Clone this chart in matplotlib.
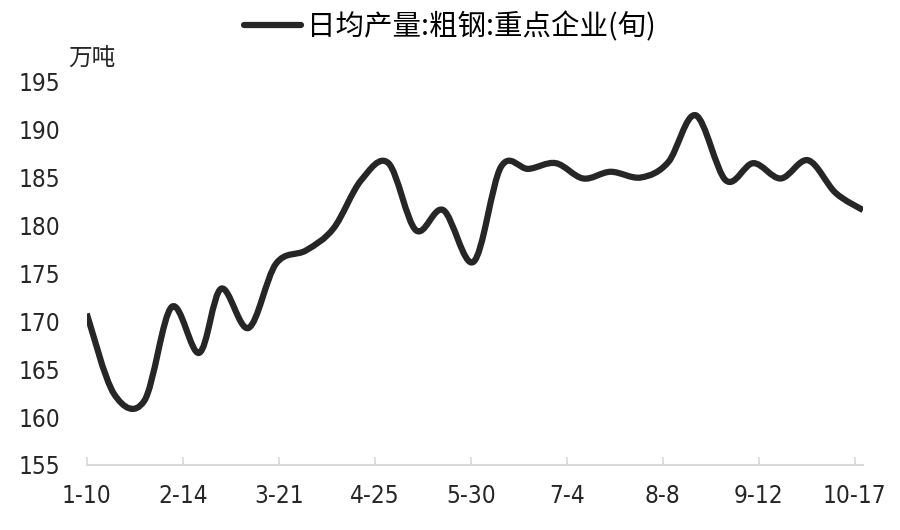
import pandas as pd
import matplotlib.pyplot as plt
import matplotlib.dates as mdates
from matplotlib.path import Path
from matplotlib.patches import PathPatch
from matplotlib.lines import Line2D

# xun (10-day) data, 2019
dates = ["2019-01-10", "2019-01-20", "2019-01-31", "2019-02-10", "2019-02-20", "2019-02-28",
         "2019-03-10", "2019-03-20", "2019-03-31", "2019-04-10", "2019-04-20", "2019-04-30",
         "2019-05-10", "2019-05-20", "2019-05-31", "2019-06-10", "2019-06-20", "2019-06-30",
         "2019-07-10", "2019-07-20", "2019-07-31", "2019-08-10", "2019-08-20", "2019-08-31",
         "2019-09-10", "2019-09-20", "2019-09-30", "2019-10-10", "2019-10-20"]
output = [170.8, 162.4, 161.7, 171.5, 166.7, 173.4,
          169.3, 176.0, 177.4, 179.7, 184.7, 186.5,
          179.5, 181.6, 176.2, 186.1, 185.9, 186.5,
          184.9, 185.6, 185.0, 186.6, 191.5, 184.7,
          186.5, 184.9, 186.8, 183.4, 181.6]
tick_dates = ["2019-01-10", "2019-02-14", "2019-03-21", "2019-04-25", "2019-05-30",
              "2019-07-04", "2019-08-08", "2019-09-12", "2019-10-17"]
tick_labels = ["1-10", "2-14", "3-21", "4-25", "5-30", "7-4", "8-8", "9-12", "10-17"]
y_ticks = [155, 160, 165, 170, 175, 180, 185, 190, 195]

series_name = "日均产量:粗钢:重点企业(旬)"
unit = "万吨"

cjk = ["Noto Sans CJK SC", "DejaVu Sans"]
line_color = "#262626"

x = mdates.date2num(pd.to_datetime(dates))
y = output

fig = plt.figure(figsize=(9, 5.3), dpi=100)
ax = fig.add_axes([86.7 / 900, 1 - 465 / 530, (863 - 86.7) / 900, (465 - 81.7) / 530])

# smoothed line (Catmull-Rom as cubic Bezier, like Excel's smoothed line)
verts = [(x[0], y[0])]
codes = [Path.MOVETO]
n = len(x)
for i in range(n - 1):
    p0 = (x[max(i - 1, 0)], y[max(i - 1, 0)])
    p1 = (x[i], y[i])
    p2 = (x[i + 1], y[i + 1])
    p3 = (x[min(i + 2, n - 1)], y[min(i + 2, n - 1)])
    c1 = (p1[0] + (p2[0] - p0[0]) / 6, p1[1] + (p2[1] - p0[1]) / 6)
    c2 = (p2[0] - (p3[0] - p1[0]) / 6, p2[1] - (p3[1] - p1[1]) / 6)
    verts += [c1, c2, p2]
    codes += [Path.CURVE4] * 3
patch = PathPatch(Path(verts, codes), facecolor="none", edgecolor=line_color,
                  lw=4.5, capstyle="butt", joinstyle="round")
ax.add_patch(patch)

ax.set_xlim(x[0], x[-1])
ax.set_ylim(155, 195)
ax.set_yticks(y_ticks)
ax.set_xticks(mdates.date2num(pd.to_datetime(tick_dates)))
ax.set_xticklabels(tick_labels)

for s in ["top", "right", "left"]:
    ax.spines[s].set_visible(False)
ax.spines["bottom"].set_color("#d9d9d9")
ax.spines["bottom"].set_linewidth(1.5)
ax.tick_params(axis="x", direction="in", length=6, width=1.2, color="#d9d9d9", pad=14)
ax.tick_params(axis="y", length=0, pad=19)
for lab in ax.get_xticklabels() + ax.get_yticklabels():
    lab.set_family("DejaVu Sans")
    lab.set_stretch("condensed")
    lab.set_fontsize(17.5)
    lab.set_color("#262626")

fig.text(68 / 900, 1 - 58 / 530, unit, family=cjk, fontsize=17, color="#262626",
         va="center", ha="left")

handle = Line2D([], [], color=line_color, lw=4.5, solid_capstyle="round")
fig.legend([handle], [series_name], loc="center", bbox_to_anchor=(0.5, 1 - 27 / 530),
           frameon=False, handlelength=2.0, handletextpad=0.2,
           prop={"family": cjk, "size": 20.5})

fig.savefig("out.png", dpi=100)
